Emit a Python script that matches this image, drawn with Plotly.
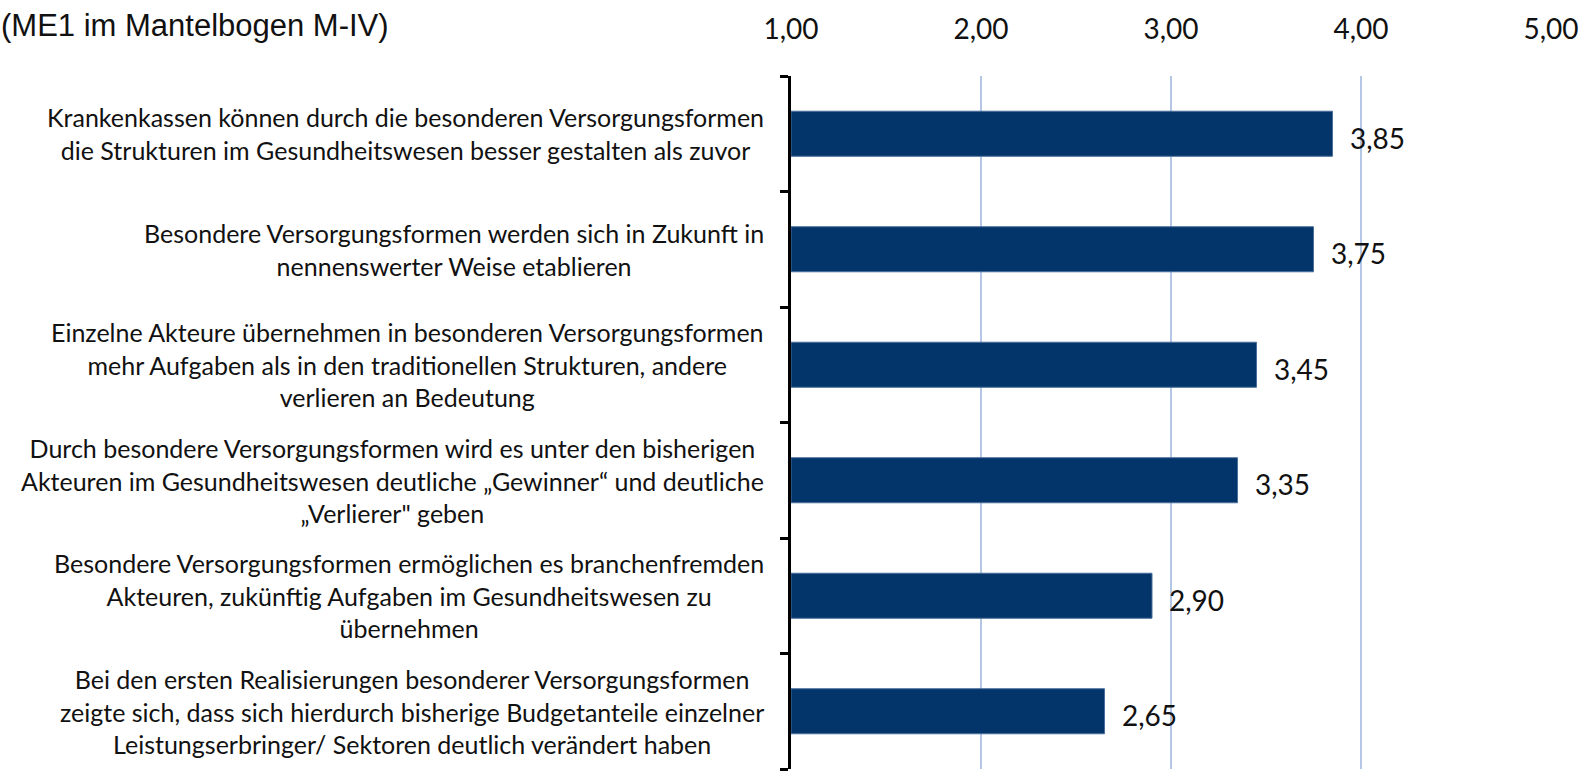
import plotly.graph_objects as go

categories = [
    "Krankenkassen können durch die besonderen Versorgungsformen<br>die Strukturen im Gesundheitswesen besser gestalten als zuvor",
    "Besondere Versorgungsformen werden sich in Zukunft in<br>nennenswerter Weise etablieren",
    "Einzelne Akteure übernehmen in besonderen Versorgungsformen<br>mehr Aufgaben als in den traditionellen Strukturen, andere<br>verlieren an Bedeutung",
    "Durch besondere Versorgungsformen wird es unter den bisherigen<br>Akteuren im Gesundheitswesen deutliche „Gewinner“ und deutliche<br>„Verlierer\" geben",
    "Besondere Versorgungsformen ermöglichen es branchenfremden<br>Akteuren, zukünftig Aufgaben im Gesundheitswesen zu<br>übernehmen",
    "Bei den ersten Realisierungen besonderer Versorgungsformen<br>zeigte sich, dass sich hierdurch bisherige Budgetanteile einzelner<br>Leistungserbringer/ Sektoren deutlich verändert haben",
]
values = [3.85, 3.75, 3.45, 3.35, 2.90, 2.65]
tick_values = [1, 2, 3, 4, 5]
tick_labels = ["1,00", "2,00", "3,00", "4,00", "5,00"]
title_text = "(ME1 im Mantelbogen M-IV)"

FONT = "Lato, Calibri, Carlito, sans-serif"
BAR = "#03346A"

fig = go.Figure()
fig.add_trace(go.Bar(
    x=[v - 1 for v in values],
    base=1,
    y=list(range(len(categories))),
    orientation="h",
    marker=dict(color=BAR, line=dict(color="#4a6f9a", width=1)),
    width=0.39,
    hoverinfo="skip",
))

annotations = []
for i, (c, v) in enumerate(zip(categories, values)):
    annotations.append(dict(
        x=0, xref="paper", y=i, yref="y", xanchor="right", yanchor="middle",
        xshift=-25, text=c, showarrow=False, align="center",
        font=dict(family=FONT, size=25, color="#111111"),
    ))
    annotations.append(dict(
        x=v, xref="x", y=i, yref="y", xanchor="left", yanchor="middle",
        xshift=15, yshift=-4, text=f"{v:.2f}".replace(".", ","), showarrow=False,
        font=dict(family=FONT, size=28, color="#111111"),
    ))
annotations.append(dict(
    x=0, xref="paper", y=1, yref="paper", xanchor="left", yanchor="middle",
    xshift=-792, yshift=51, text=title_text, showarrow=False,
    font=dict(family="Liberation Sans, Arial, sans-serif", size=31, color="#111111"),
))

fig.update_layout(
    width=1588, height=772,
    margin=dict(l=791, r=37, t=76, b=3),
    plot_bgcolor="white", paper_bgcolor="white",
    showlegend=False,
    annotations=annotations,
    xaxis=dict(
        side="top", range=[1, 5], tickvals=tick_values, ticktext=tick_labels,
        showgrid=True, gridcolor="#B4C7E7", gridwidth=1.5, zeroline=False,
        showline=False, ticks="", ticklabelstandoff=30,
        tickfont=dict(family=FONT, size=28, color="#111111"),
    ),
    yaxis=dict(
        type="linear", range=[len(categories) - 0.5, -0.5],
        tickvals=[i - 0.5 for i in range(len(categories) + 1)],
        showticklabels=False, showgrid=False, zeroline=False,
        showline=True, linecolor="black", linewidth=3,
        ticks="outside", ticklen=8, tickwidth=3, tickcolor="black",
    ),
)

fig.write_html("out.html", config={"displayModeBar": False},
               post_script="document.body.style.margin='0';")
